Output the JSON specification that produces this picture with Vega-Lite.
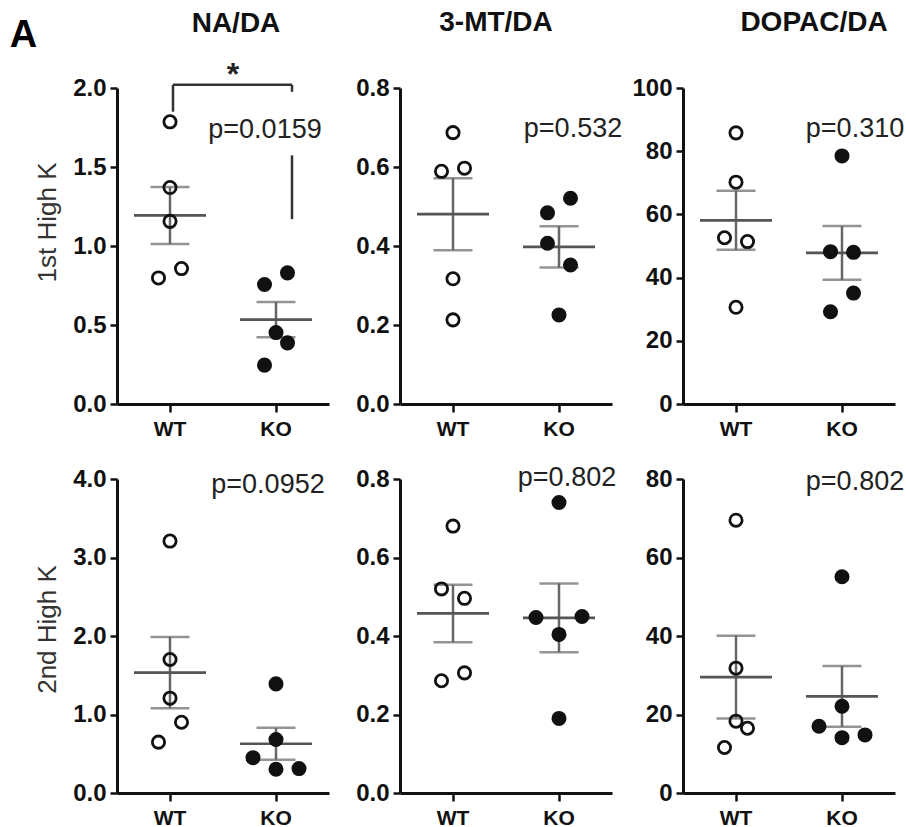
{
  "$schema": "https://vega.github.io/schema/vega-lite/v6.json",
  "padding": {"left": 9, "top": 9, "right": 0, "bottom": 0},
  "title": {"text": "A", "anchor": "start", "fontSize": 38, "fontWeight": "bold", "offset": -46, "dx": -25, "color": "#000"},
  "datasets": {
    "pts": [
      {"m": "NA/DA", "r": "1st", "g": "WT", "s": 0, "v": 1.786},
      {"m": "NA/DA", "r": "1st", "g": "WT", "s": 0, "v": 1.37},
      {"m": "NA/DA", "r": "1st", "g": "WT", "s": 0, "v": 1.156},
      {"m": "NA/DA", "r": "1st", "g": "WT", "s": -1, "v": 0.798},
      {"m": "NA/DA", "r": "1st", "g": "WT", "s": 1, "v": 0.857},
      {"m": "NA/DA", "r": "1st", "g": "KO", "s": -1, "v": 0.756},
      {"m": "NA/DA", "r": "1st", "g": "KO", "s": 1, "v": 0.83},
      {"m": "NA/DA", "r": "1st", "g": "KO", "s": 0, "v": 0.452},
      {"m": "NA/DA", "r": "1st", "g": "KO", "s": 1, "v": 0.387},
      {"m": "NA/DA", "r": "1st", "g": "KO", "s": -1, "v": 0.246},
      {"m": "3-MT/DA", "r": "1st", "g": "WT", "s": 0, "v": 0.687},
      {"m": "3-MT/DA", "r": "1st", "g": "WT", "s": -1, "v": 0.589},
      {"m": "3-MT/DA", "r": "1st", "g": "WT", "s": 1, "v": 0.597},
      {"m": "3-MT/DA", "r": "1st", "g": "WT", "s": 0, "v": 0.317},
      {"m": "3-MT/DA", "r": "1st", "g": "WT", "s": 0, "v": 0.213},
      {"m": "3-MT/DA", "r": "1st", "g": "KO", "s": -1, "v": 0.484},
      {"m": "3-MT/DA", "r": "1st", "g": "KO", "s": 1, "v": 0.521},
      {"m": "3-MT/DA", "r": "1st", "g": "KO", "s": -1, "v": 0.407},
      {"m": "3-MT/DA", "r": "1st", "g": "KO", "s": 1, "v": 0.352},
      {"m": "3-MT/DA", "r": "1st", "g": "KO", "s": 0, "v": 0.2255},
      {"m": "DOPAC/DA", "r": "1st", "g": "WT", "s": 0, "v": 85.8},
      {"m": "DOPAC/DA", "r": "1st", "g": "WT", "s": 0, "v": 70.2},
      {"m": "DOPAC/DA", "r": "1st", "g": "WT", "s": -1, "v": 52.6},
      {"m": "DOPAC/DA", "r": "1st", "g": "WT", "s": 1, "v": 51.4},
      {"m": "DOPAC/DA", "r": "1st", "g": "WT", "s": 0, "v": 30.6},
      {"m": "DOPAC/DA", "r": "1st", "g": "KO", "s": 0, "v": 78.5},
      {"m": "DOPAC/DA", "r": "1st", "g": "KO", "s": -1, "v": 48.2},
      {"m": "DOPAC/DA", "r": "1st", "g": "KO", "s": 1, "v": 48.0},
      {"m": "DOPAC/DA", "r": "1st", "g": "KO", "s": 1, "v": 35.1},
      {"m": "DOPAC/DA", "r": "1st", "g": "KO", "s": -1, "v": 29.2},
      {"m": "NA/DA", "r": "2nd", "g": "WT", "s": 0, "v": 3.209},
      {"m": "NA/DA", "r": "2nd", "g": "WT", "s": 0, "v": 1.701},
      {"m": "NA/DA", "r": "2nd", "g": "WT", "s": 0, "v": 1.208},
      {"m": "NA/DA", "r": "2nd", "g": "WT", "s": 1, "v": 0.901},
      {"m": "NA/DA", "r": "2nd", "g": "WT", "s": -1, "v": 0.648},
      {"m": "NA/DA", "r": "2nd", "g": "KO", "s": 0, "v": 1.39},
      {"m": "NA/DA", "r": "2nd", "g": "KO", "s": 0, "v": 0.682},
      {"m": "NA/DA", "r": "2nd", "g": "KO", "s": -2, "v": 0.45},
      {"m": "NA/DA", "r": "2nd", "g": "KO", "s": 0, "v": 0.303},
      {"m": "NA/DA", "r": "2nd", "g": "KO", "s": 2, "v": 0.311},
      {"m": "3-MT/DA", "r": "2nd", "g": "WT", "s": 0, "v": 0.68},
      {"m": "3-MT/DA", "r": "2nd", "g": "WT", "s": -1, "v": 0.52},
      {"m": "3-MT/DA", "r": "2nd", "g": "WT", "s": 1, "v": 0.496},
      {"m": "3-MT/DA", "r": "2nd", "g": "WT", "s": -1, "v": 0.286},
      {"m": "3-MT/DA", "r": "2nd", "g": "WT", "s": 1, "v": 0.306},
      {"m": "3-MT/DA", "r": "2nd", "g": "KO", "s": 0, "v": 0.74},
      {"m": "3-MT/DA", "r": "2nd", "g": "KO", "s": -2, "v": 0.447},
      {"m": "3-MT/DA", "r": "2nd", "g": "KO", "s": 2, "v": 0.4496},
      {"m": "3-MT/DA", "r": "2nd", "g": "KO", "s": 0, "v": 0.404},
      {"m": "3-MT/DA", "r": "2nd", "g": "KO", "s": 0, "v": 0.19},
      {"m": "DOPAC/DA", "r": "2nd", "g": "WT", "s": 0, "v": 69.5},
      {"m": "DOPAC/DA", "r": "2nd", "g": "WT", "s": 0, "v": 31.8},
      {"m": "DOPAC/DA", "r": "2nd", "g": "WT", "s": 0, "v": 18.3},
      {"m": "DOPAC/DA", "r": "2nd", "g": "WT", "s": 1, "v": 16.5},
      {"m": "DOPAC/DA", "r": "2nd", "g": "WT", "s": -1, "v": 11.6},
      {"m": "DOPAC/DA", "r": "2nd", "g": "KO", "s": 0, "v": 55.1},
      {"m": "DOPAC/DA", "r": "2nd", "g": "KO", "s": 0, "v": 22.1},
      {"m": "DOPAC/DA", "r": "2nd", "g": "KO", "s": -2, "v": 17.0},
      {"m": "DOPAC/DA", "r": "2nd", "g": "KO", "s": 2, "v": 14.8},
      {"m": "DOPAC/DA", "r": "2nd", "g": "KO", "s": 0, "v": 14.1}
    ],
    "ann": [
      {"m": "NA/DA", "r": "1st", "k": "p", "g": "KO", "label": "p=0.0159", "y": 1.733},
      {"m": "3-MT/DA", "r": "1st", "k": "p", "g": "KO", "label": "p=0.532", "y": 0.697},
      {"m": "DOPAC/DA", "r": "1st", "k": "p", "g": "KO", "label": "p=0.310", "y": 87.1},
      {"m": "NA/DA", "r": "2nd", "k": "p", "g": "KO", "label": "p=0.0952", "y": 3.92},
      {"m": "3-MT/DA", "r": "2nd", "k": "p", "g": "KO", "label": "p=0.802", "y": 0.802},
      {"m": "DOPAC/DA", "r": "2nd", "k": "p", "g": "KO", "label": "p=0.802", "y": 79.2},
      {"m": "NA/DA", "r": "1st", "k": "star", "g": "WT", "label": "*", "y": 2.02}
    ],
    "br": [
      {"k": "h", "a": "WT", "b": "KO", "y": 2.02},
      {"k": "l", "a": "WT", "y": 2.02, "y2": 1.85},
      {"k": "r", "a": "KO", "y": 2.02, "y2": 1.976},
      {"k": "r", "a": "KO", "y": 1.574, "y2": 1.17}
    ]
  },
  "concat": [
    {
      "width": 212, "height": 316,
      "title": {"text": "NA/DA", "frame": "group", "anchor": "middle", "dx": 13, "offset": 21},
      "layer": [
        {"data": {"name": "pts"}, "transform": [{"filter": "datum.m==='NA/DA'&&datum.r==='1st'"}],
         "mark": {"type": "errorbar", "extent": "stderr", "ticks": true, "size": 39, "thickness": 2.5, "color": "#666"},
         "encoding": {
           "x": {"field": "g", "type": "nominal", "scale": {"domain": ["WT", "KO"], "paddingInner": 0, "paddingOuter": 0}, "title": null},
           "y": {"field": "v", "type": "quantitative", "scale": {"domain": [0, 2]}, "axis": {"values": [0, 0.5, 1, 1.5, 2], "format": ".1f", "titleY": 134}, "title": "1st High K"}}},
        {"data": {"name": "pts"}, "transform": [{"filter": "datum.m==='NA/DA'&&datum.r==='1st'"}],
         "mark": {"type": "tick", "size": 72, "thickness": 2.7, "color": "#555"},
         "encoding": {"x": {"field": "g", "type": "nominal", "title": null}, "y": {"aggregate": "mean", "field": "v", "type": "quantitative", "title": "1st High K"}}},
        {"data": {"name": "pts"}, "transform": [{"filter": "datum.m==='NA/DA'&&datum.r==='1st'"}],
         "mark": {"type": "point", "shape": "circle", "size": 150, "strokeWidth": 2.8, "stroke": "#111", "opacity": 1},
         "encoding": {"x": {"field": "g", "type": "nominal", "bandPosition": 0, "title": null}, "xOffset": {"field": "s", "type": "quantitative", "scale": {"domain": [-2, 2], "range": [30, 76]}}, "y": {"field": "v", "type": "quantitative", "title": "1st High K"}, "fill": {"field": "g", "type": "nominal", "scale": {"domain": ["WT", "KO"], "range": ["transparent", "#111"]}, "legend": null}}},
        {"data": {"name": "ann"}, "transform": [{"filter": "datum.m==='NA/DA'&&datum.r==='1st'&&datum.k==='p'"}],
         "mark": {"type": "text", "fontSize": 27, "align": "center", "baseline": "middle", "dx": -11, "color": "#222"},
         "encoding": {"x": {"field": "g", "type": "nominal", "title": null}, "y": {"field": "y", "type": "quantitative", "title": "1st High K"}, "text": {"field": "label"}}},
        {"data": {"name": "ann"}, "transform": [{"filter": "datum.m==='NA/DA'&&datum.r==='1st'&&datum.k==='star'"}],
         "mark": {"type": "text", "fontSize": 32, "fontWeight": "bold", "align": "center", "baseline": "alphabetic", "dx": 63, "color": "#222"},
         "encoding": {"x": {"field": "g", "type": "nominal", "title": null}, "y": {"field": "y", "type": "quantitative", "title": "1st High K"}, "text": {"field": "label"}}},
        {"data": {"name": "br"}, "transform": [{"filter": "datum.k==='h'"}],
         "mark": {"type": "rule", "color": "#333", "strokeWidth": 2.5, "xOffset": 3, "x2Offset": 16},
         "encoding": {"x": {"field": "a", "type": "nominal", "bandPosition": 0.5, "title": null}, "x2": {"field": "b"}, "y": {"field": "y", "type": "quantitative", "title": "1st High K"}}},
        {"data": {"name": "br"}, "transform": [{"filter": "datum.k==='l'"}],
         "mark": {"type": "rule", "color": "#333", "strokeWidth": 2.5, "xOffset": 3},
         "encoding": {"x": {"field": "a", "type": "nominal", "title": null}, "y": {"field": "y", "type": "quantitative", "title": "1st High K"}, "y2": {"field": "y2"}}},
        {"data": {"name": "br"}, "transform": [{"filter": "datum.k==='r'"}],
         "mark": {"type": "rule", "color": "#333", "strokeWidth": 2.5, "xOffset": 16},
         "encoding": {"x": {"field": "a", "type": "nominal", "title": null}, "y": {"field": "y", "type": "quantitative", "title": "1st High K"}, "y2": {"field": "y2"}}}
      ]
    },
    {
      "width": 212, "height": 316,
      "title": {"text": "3-MT/DA", "frame": "group", "anchor": "middle", "dx": -10, "offset": 39},
      "layer": [
        {"data": {"name": "pts"}, "transform": [{"filter": "datum.m==='3-MT/DA'&&datum.r==='1st'"}],
         "mark": {"type": "errorbar", "extent": "stderr", "ticks": true, "size": 39, "thickness": 2.5, "color": "#666"},
         "encoding": {
           "x": {"field": "g", "type": "nominal", "scale": {"domain": ["WT", "KO"], "paddingInner": 0, "paddingOuter": 0}, "title": null},
           "y": {"field": "v", "type": "quantitative", "scale": {"domain": [0, 0.8]}, "axis": {"values": [0, 0.2, 0.4, 0.6, 0.8], "format": ".1f"}, "title": null}}},
        {"data": {"name": "pts"}, "transform": [{"filter": "datum.m==='3-MT/DA'&&datum.r==='1st'"}],
         "mark": {"type": "tick", "size": 72, "thickness": 2.7, "color": "#555"},
         "encoding": {"x": {"field": "g", "type": "nominal", "title": null}, "y": {"aggregate": "mean", "field": "v", "type": "quantitative", "title": null}}},
        {"data": {"name": "pts"}, "transform": [{"filter": "datum.m==='3-MT/DA'&&datum.r==='1st'"}],
         "mark": {"type": "point", "shape": "circle", "size": 150, "strokeWidth": 2.8, "stroke": "#111", "opacity": 1},
         "encoding": {"x": {"field": "g", "type": "nominal", "bandPosition": 0, "title": null}, "xOffset": {"field": "s", "type": "quantitative", "scale": {"domain": [-2, 2], "range": [30, 76]}}, "y": {"field": "v", "type": "quantitative", "title": null}, "fill": {"field": "g", "type": "nominal", "scale": {"domain": ["WT", "KO"], "range": ["transparent", "#111"]}, "legend": null}}},
        {"data": {"name": "ann"}, "transform": [{"filter": "datum.m==='3-MT/DA'&&datum.r==='1st'&&datum.k==='p'"}],
         "mark": {"type": "text", "fontSize": 27, "align": "center", "baseline": "middle", "dx": 14, "color": "#222"},
         "encoding": {"x": {"field": "g", "type": "nominal", "title": null}, "y": {"field": "y", "type": "quantitative", "title": null}, "text": {"field": "label"}}}
      ]
    },
    {
      "width": 212, "height": 316,
      "title": {"text": "DOPAC/DA", "frame": "group", "anchor": "middle", "dx": 25, "offset": 39},
      "layer": [
        {"data": {"name": "pts"}, "transform": [{"filter": "datum.m==='DOPAC/DA'&&datum.r==='1st'"}],
         "mark": {"type": "errorbar", "extent": "stderr", "ticks": true, "size": 39, "thickness": 2.5, "color": "#666"},
         "encoding": {
           "x": {"field": "g", "type": "nominal", "scale": {"domain": ["WT", "KO"], "paddingInner": 0, "paddingOuter": 0}, "title": null},
           "y": {"field": "v", "type": "quantitative", "scale": {"domain": [0, 100]}, "axis": {"values": [0, 20, 40, 60, 80, 100], "format": "d"}, "title": null}}},
        {"data": {"name": "pts"}, "transform": [{"filter": "datum.m==='DOPAC/DA'&&datum.r==='1st'"}],
         "mark": {"type": "tick", "size": 72, "thickness": 2.7, "color": "#555"},
         "encoding": {"x": {"field": "g", "type": "nominal", "title": null}, "y": {"aggregate": "mean", "field": "v", "type": "quantitative", "title": null}}},
        {"data": {"name": "pts"}, "transform": [{"filter": "datum.m==='DOPAC/DA'&&datum.r==='1st'"}],
         "mark": {"type": "point", "shape": "circle", "size": 150, "strokeWidth": 2.8, "stroke": "#111", "opacity": 1},
         "encoding": {"x": {"field": "g", "type": "nominal", "bandPosition": 0, "title": null}, "xOffset": {"field": "s", "type": "quantitative", "scale": {"domain": [-2, 2], "range": [30, 76]}}, "y": {"field": "v", "type": "quantitative", "title": null}, "fill": {"field": "g", "type": "nominal", "scale": {"domain": ["WT", "KO"], "range": ["transparent", "#111"]}, "legend": null}}},
        {"data": {"name": "ann"}, "transform": [{"filter": "datum.m==='DOPAC/DA'&&datum.r==='1st'&&datum.k==='p'"}],
         "mark": {"type": "text", "fontSize": 27, "align": "center", "baseline": "middle", "dx": 13, "color": "#222"},
         "encoding": {"x": {"field": "g", "type": "nominal", "title": null}, "y": {"field": "y", "type": "quantitative", "title": null}, "text": {"field": "label"}}}
      ]
    },
    {
      "width": 212, "height": 314,
      "layer": [
        {"data": {"name": "pts"}, "transform": [{"filter": "datum.m==='NA/DA'&&datum.r==='2nd'"}],
         "mark": {"type": "errorbar", "extent": "stderr", "ticks": true, "size": 39, "thickness": 2.5, "color": "#666"},
         "encoding": {
           "x": {"field": "g", "type": "nominal", "scale": {"domain": ["WT", "KO"], "paddingInner": 0, "paddingOuter": 0}, "title": null},
           "y": {"field": "v", "type": "quantitative", "scale": {"domain": [0, 4]}, "axis": {"values": [0, 1, 2, 3, 4], "format": ".1f", "titleY": 150}, "title": "2nd High K"}}},
        {"data": {"name": "pts"}, "transform": [{"filter": "datum.m==='NA/DA'&&datum.r==='2nd'"}],
         "mark": {"type": "tick", "size": 72, "thickness": 2.7, "color": "#555"},
         "encoding": {"x": {"field": "g", "type": "nominal", "title": null}, "y": {"aggregate": "mean", "field": "v", "type": "quantitative", "title": "2nd High K"}}},
        {"data": {"name": "pts"}, "transform": [{"filter": "datum.m==='NA/DA'&&datum.r==='2nd'"}],
         "mark": {"type": "point", "shape": "circle", "size": 150, "strokeWidth": 2.8, "stroke": "#111", "opacity": 1},
         "encoding": {"x": {"field": "g", "type": "nominal", "bandPosition": 0, "title": null}, "xOffset": {"field": "s", "type": "quantitative", "scale": {"domain": [-2, 2], "range": [30, 76]}}, "y": {"field": "v", "type": "quantitative", "title": "2nd High K"}, "fill": {"field": "g", "type": "nominal", "scale": {"domain": ["WT", "KO"], "range": ["transparent", "#111"]}, "legend": null}}},
        {"data": {"name": "ann"}, "transform": [{"filter": "datum.m==='NA/DA'&&datum.r==='2nd'&&datum.k==='p'"}],
         "mark": {"type": "text", "fontSize": 27, "align": "center", "baseline": "middle", "dx": -8, "color": "#222"},
         "encoding": {"x": {"field": "g", "type": "nominal", "title": null}, "y": {"field": "y", "type": "quantitative", "title": "2nd High K"}, "text": {"field": "label"}}}
      ]
    },
    {
      "width": 212, "height": 314,
      "layer": [
        {"data": {"name": "pts"}, "transform": [{"filter": "datum.m==='3-MT/DA'&&datum.r==='2nd'"}],
         "mark": {"type": "errorbar", "extent": "stderr", "ticks": true, "size": 39, "thickness": 2.5, "color": "#666"},
         "encoding": {
           "x": {"field": "g", "type": "nominal", "scale": {"domain": ["WT", "KO"], "paddingInner": 0, "paddingOuter": 0}, "title": null},
           "y": {"field": "v", "type": "quantitative", "scale": {"domain": [0, 0.8]}, "axis": {"values": [0, 0.2, 0.4, 0.6, 0.8], "format": ".1f"}, "title": null}}},
        {"data": {"name": "pts"}, "transform": [{"filter": "datum.m==='3-MT/DA'&&datum.r==='2nd'"}],
         "mark": {"type": "tick", "size": 72, "thickness": 2.7, "color": "#555"},
         "encoding": {"x": {"field": "g", "type": "nominal", "title": null}, "y": {"aggregate": "mean", "field": "v", "type": "quantitative", "title": null}}},
        {"data": {"name": "pts"}, "transform": [{"filter": "datum.m==='3-MT/DA'&&datum.r==='2nd'"}],
         "mark": {"type": "point", "shape": "circle", "size": 150, "strokeWidth": 2.8, "stroke": "#111", "opacity": 1},
         "encoding": {"x": {"field": "g", "type": "nominal", "bandPosition": 0, "title": null}, "xOffset": {"field": "s", "type": "quantitative", "scale": {"domain": [-2, 2], "range": [30, 76]}}, "y": {"field": "v", "type": "quantitative", "title": null}, "fill": {"field": "g", "type": "nominal", "scale": {"domain": ["WT", "KO"], "range": ["transparent", "#111"]}, "legend": null}}},
        {"data": {"name": "ann"}, "transform": [{"filter": "datum.m==='3-MT/DA'&&datum.r==='2nd'&&datum.k==='p'"}],
         "mark": {"type": "text", "fontSize": 27, "align": "center", "baseline": "middle", "dx": 8, "color": "#222"},
         "encoding": {"x": {"field": "g", "type": "nominal", "title": null}, "y": {"field": "y", "type": "quantitative", "title": null}, "text": {"field": "label"}}}
      ]
    },
    {
      "width": 212, "height": 314,
      "layer": [
        {"data": {"name": "pts"}, "transform": [{"filter": "datum.m==='DOPAC/DA'&&datum.r==='2nd'"}],
         "mark": {"type": "errorbar", "extent": "stderr", "ticks": true, "size": 39, "thickness": 2.5, "color": "#666"},
         "encoding": {
           "x": {"field": "g", "type": "nominal", "scale": {"domain": ["WT", "KO"], "paddingInner": 0, "paddingOuter": 0}, "title": null},
           "y": {"field": "v", "type": "quantitative", "scale": {"domain": [0, 80]}, "axis": {"values": [0, 20, 40, 60, 80], "format": "d"}, "title": null}}},
        {"data": {"name": "pts"}, "transform": [{"filter": "datum.m==='DOPAC/DA'&&datum.r==='2nd'"}],
         "mark": {"type": "tick", "size": 72, "thickness": 2.7, "color": "#555"},
         "encoding": {"x": {"field": "g", "type": "nominal", "title": null}, "y": {"aggregate": "mean", "field": "v", "type": "quantitative", "title": null}}},
        {"data": {"name": "pts"}, "transform": [{"filter": "datum.m==='DOPAC/DA'&&datum.r==='2nd'"}],
         "mark": {"type": "point", "shape": "circle", "size": 150, "strokeWidth": 2.8, "stroke": "#111", "opacity": 1},
         "encoding": {"x": {"field": "g", "type": "nominal", "bandPosition": 0, "title": null}, "xOffset": {"field": "s", "type": "quantitative", "scale": {"domain": [-2, 2], "range": [30, 76]}}, "y": {"field": "v", "type": "quantitative", "title": null}, "fill": {"field": "g", "type": "nominal", "scale": {"domain": ["WT", "KO"], "range": ["transparent", "#111"]}, "legend": null}}},
        {"data": {"name": "ann"}, "transform": [{"filter": "datum.m==='DOPAC/DA'&&datum.r==='2nd'&&datum.k==='p'"}],
         "mark": {"type": "text", "fontSize": 27, "align": "center", "baseline": "middle", "dx": 13, "color": "#222"},
         "encoding": {"x": {"field": "g", "type": "nominal", "title": null}, "y": {"field": "y", "type": "quantitative", "title": null}, "text": {"field": "label"}}}
      ]
    }
  ],
  "columns": 3,
  "spacing": {"row": 75, "column": 71},
  "bounds": "flush",
  "config": {
    "view": {"stroke": null},
    "font": "Liberation Sans",
    "axis": {"grid": false, "domainColor": "#111", "domainWidth": 3, "tickColor": "#111", "tickWidth": 2.5, "labelColor": "#111", "labelFont": "Liberation Sans", "labelFontWeight": "bold", "titleFont": "Liberation Sans", "titleFontWeight": "normal", "titleColor": "#333", "titleFontSize": 26},
    "axisY": {"tickSize": 7, "labelFontSize": 24, "labelPadding": 4, "titlePadding": 12},
    "axisX": {"tickSize": 8, "labelFontSize": 21, "labelPadding": 6, "labelAngle": 0},
    "title": {"font": "Liberation Sans", "fontSize": 28, "fontWeight": "bold", "color": "#111"}
  }
}
